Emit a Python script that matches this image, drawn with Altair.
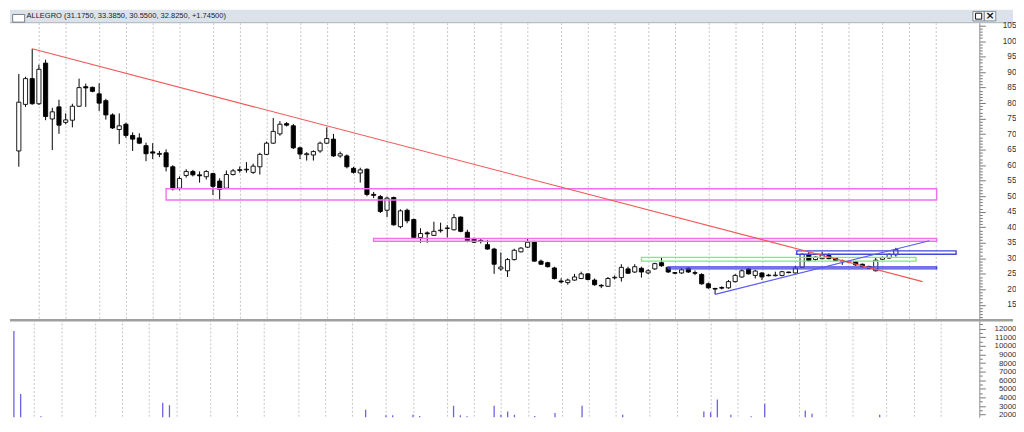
import altair as alt
import pandas as pd

TITLE_TEXT = "ALLEGRO (31.1750, 33.3850, 30.5500, 32.8250, +1.74500)"

# weekly candles (week index 0 = first trading week)
opens = [
    64.6, 79.6, 87.9, 79.8, 92.9, 74.9, 78.8, 73.8, 74.5, 79.0,
    85.3, 85.1, 83.0, 80.8, 76.2, 71.5, 73.2, 69.6, 68.8, 66.3,
    64.3, 63.5, 64.0, 59.5, 52.6, 56.7, 58.0, 56.9, 56.3, 57.3,
    54.9, 52.6, 57.0, 58.3, 58.5, 57.7, 59.5, 63.5, 67.1, 70.1,
    73.4, 72.7, 65.6, 63.4, 63.3, 64.6, 67.1, 68.4, 63.0, 63.0,
    59.0, 57.5, 58.7, 50.6, 49.9, 45.5, 49.6, 40.2, 45.5, 42.5,
    36.7, 38.2, 37.4, 38.9, 39.6, 39.2, 43.3, 38.4, 36.2, 35.8,
    34.4, 33.0, 26.6, 26.0, 29.6, 32.1, 33.6, 35.4, 29.1, 28.6,
    26.9, 22.7, 22.2, 23.0, 23.5, 25.0, 23.0, 21.3, 21.0, 23.7,
    23.8, 26.6, 25.6, 26.8, 25.3, 26.6, 28.6, 27.1, 25.4, 25.3,
    26.8, 25.4, 24.8, 21.8, 20.3, 20.6, 20.5, 22.5, 24.0, 26.6,
    24.5, 25.3, 24.6, 24.4, 24.5, 25.6, 25.3, 27.1, 31.3, 29.6,
    29.9, 30.9, 30.1, 29.2, 29.0, 28.9, 28.1, 27.4, 26.0, 29.7,
    30.1, 31.175]
highs = [
    89.4, 88.5, 97.5, 92.4, 94.0, 78.5, 81.1, 76.7, 79.8, 87.9,
    86.3, 85.3, 86.4, 81.4, 76.7, 76.7, 73.7, 70.6, 70.3, 67.3,
    67.1, 64.6, 65.1, 60.0, 56.4, 58.7, 58.5, 58.0, 58.4, 57.6,
    55.8, 58.3, 58.8, 59.6, 61.0, 60.5, 64.0, 67.6, 75.2, 74.2,
    73.9, 73.3, 66.0, 64.2, 64.8, 67.6, 72.2, 70.1, 64.4, 63.5,
    59.5, 59.2, 59.0, 51.4, 50.4, 49.9, 49.9, 45.8, 46.0, 42.8,
    39.7, 38.7, 41.8, 41.5, 40.7, 44.3, 43.5, 39.2, 36.7, 36.2,
    35.9, 33.4, 31.9, 30.1, 33.1, 33.6, 36.4, 35.7, 29.6, 28.9,
    27.3, 23.6, 23.5, 25.0, 25.7, 25.2, 23.5, 21.7, 24.0, 24.5,
    28.1, 27.3, 28.1, 27.3, 26.5, 28.6, 30.1, 27.3, 25.6, 26.9,
    27.1, 26.1, 25.2, 22.2, 20.5, 21.0, 23.0, 25.0, 26.5, 26.9,
    26.3, 25.5, 25.0, 25.7, 26.0, 25.7, 27.6, 31.6, 32.1, 30.6,
    32.1, 31.6, 30.3, 29.6, 29.3, 29.1, 28.3, 27.6, 30.3, 30.6,
    31.6, 33.385]
lows = [
    59.5, 78.8, 79.5, 79.4, 74.5, 64.9, 70.1, 73.2, 72.2, 78.8,
    78.8, 83.5, 77.5, 74.7, 71.7, 66.8, 68.8, 64.6, 66.8, 61.3,
    62.0, 62.6, 58.0, 51.9, 51.9, 56.0, 56.4, 54.4, 55.4, 50.4,
    48.8, 52.3, 56.7, 57.6, 57.6, 57.2, 57.0, 63.3, 66.9, 69.5,
    72.5, 65.2, 62.0, 61.5, 61.5, 64.0, 66.8, 62.7, 62.4, 59.0,
    57.3, 54.4, 50.0, 49.4, 44.6, 43.3, 40.5, 39.7, 41.3, 36.4,
    35.0, 35.0, 37.2, 38.3, 36.7, 39.0, 38.4, 35.2, 35.0, 34.8,
    32.8, 25.0, 26.0, 24.0, 29.3, 31.9, 33.3, 28.9, 27.9, 27.1,
    23.2, 21.9, 21.5, 22.8, 23.3, 22.9, 21.2, 20.4, 20.8, 23.2,
    22.5, 25.0, 25.3, 23.8, 24.9, 26.3, 27.3, 25.3, 24.9, 25.0,
    25.3, 24.6, 21.5, 20.2, 18.4, 20.0, 20.2, 22.2, 23.8, 24.8,
    23.5, 23.0, 24.2, 24.2, 24.2, 25.2, 25.1, 26.9, 29.1, 29.3,
    29.7, 29.7, 29.1, 27.9, 28.4, 27.6, 27.1, 26.6, 25.8, 29.5,
    29.9, 30.55]
closes = [
    80.3, 87.9, 79.8, 90.9, 75.7, 77.2, 72.9, 74.6, 79.0, 85.0,
    84.9, 83.8, 80.0, 76.2, 72.0, 72.7, 69.6, 68.4, 67.1, 63.7,
    63.9, 63.8, 59.5, 52.4, 55.7, 58.0, 56.9, 56.6, 58.0, 53.2,
    52.2, 57.0, 58.2, 58.6, 58.7, 59.7, 63.5, 67.1, 70.9, 73.2,
    72.9, 65.6, 63.6, 63.7, 64.4, 67.1, 68.6, 63.0, 63.7, 59.5,
    57.7, 58.5, 50.6, 50.3, 45.1, 49.4, 40.8, 45.3, 42.1, 36.7,
    38.0, 37.9, 38.7, 39.1, 39.8, 43.1, 38.7, 35.7, 35.2, 35.6,
    33.0, 28.1, 27.2, 29.6, 32.6, 33.3, 35.2, 29.1, 28.1, 27.3,
    23.5, 22.4, 23.0, 24.0, 25.0, 23.2, 21.5, 21.1, 23.5, 23.9,
    27.1, 25.2, 27.3, 25.6, 26.0, 28.3, 27.6, 25.6, 25.2, 26.3,
    25.6, 25.2, 21.8, 20.5, 20.1, 20.4, 22.5, 24.5, 26.0, 25.0,
    25.9, 24.0, 24.4, 24.6, 25.7, 25.4, 26.9, 31.3, 29.3, 30.4,
    31.1, 29.9, 29.3, 29.0, 28.8, 27.9, 27.3, 26.8, 29.4, 30.3,
    31.3, 32.825]

# month boundaries (week index of first week of each month)
grid_weeks = [3, 7, 12, 16, 20, 24, 29, 33, 37, 42, 46, 50, 55, 59, 64, 68,
              72, 76, 81, 85, 89, 94, 98, 103, 107, 111, 116, 120, 124, 129,
              133, 137]

# visible volume bars
vol_weeks = [0, 1, 4, 22, 23, 52, 55, 56, 59, 60, 65, 66, 67, 71, 72, 73, 74,
             77, 80, 84, 90, 102, 103, 104, 106, 109, 111, 117, 118, 128]
vol_values = [11736, 4418, 1813, 3385, 3099, 2582, 1923, 1923, 2000, 1850,
              3022, 1923, 1800, 3022, 2000, 2363, 2000, 1850, 2179, 3022,
              2000, 2363, 2290, 3758, 2000, 1800, 3275, 2473, 2100, 2000]

# drawn zones (rectangles)
box_names = ["zone 50", "zone 36", "zone 30", "zone 27", "zone 32"]
box_start = [22, 53, 93, 97, 116.2]
box_end = [137.1, 137.1, 134, 137.1, 140]
box_low = [48.8, 35.5, 29.1, 26.6, 31.3]
box_high = [52.4, 36.4, 30.3, 27.2, 32.4]

# drawn trend lines
line_names = ["downtrend", "downtrend", "uptrend", "uptrend"]
line_weeks = [2, 135, 104, 136]
line_prices = [97.5, 22.5, 18.4, 35.7]

overlay_names = ["zone 50", "zone 36", "zone 30", "zone 27", "zone 32",
                 "downtrend", "uptrend"]
overlay_colors = ["#f070f0", "#f070f0", "#78ee78", "#4646dc", "#4646dc",
                  "#f05858", "#5c5cf0"]

candles = pd.DataFrame({"i": list(range(len(opens))), "o": opens, "h": highs,
                        "l": lows, "c": closes})
vol = pd.DataFrame({"i": vol_weeks, "v": vol_values})
boxes = pd.DataFrame({"name": box_names, "x1": box_start, "x2": box_end,
                      "y1": box_low, "y2": box_high})
lines = pd.DataFrame({"name": line_names, "i": line_weeks, "p": line_prices})
title_df = pd.DataFrame({"t": [TITLE_TEXT]})

W_ALL = 1012
PW = 978
TH = 13
PH = 299
VH = 99

XDOM = [-0.579, 142.73]
PDOM = [10.44, 105.91]
VDOM = [1703, 13132]
FONT = "Liberation Sans"

xscale = alt.Scale(domain=XDOM, nice=False, zero=False)
xaxis = alt.Axis(values=grid_weeks, grid=True, gridColor="#c4c4c4",
                 gridDash=[2, 2], gridWidth=1, labels=False, ticks=False,
                 domain=False, title=None)
pscale = alt.Scale(domain=PDOM, nice=False, zero=False)
paxis = alt.Axis(orient="right", values=list(range(11, 106)),
                 labelExpr="datum.value % 5 === 0 ? datum.label : ''",
                 tickSize={"condition": {"test": "datum.value % 5 === 0", "value": 6}, "value": 3},
                 labelOverlap=False, labelAlign="right", labelPadding=31,
                 labelFontSize=8.3, labelFont=FONT, labelColor="#333333",
                 tickColor="#777777", domainColor="#8c8c8c", grid=False,
                 title=None)
vscale = alt.Scale(domain=VDOM, nice=False, zero=False)
vaxis = alt.Axis(orient="right", values=list(range(2000, 12501, 500)),
                 labelExpr="datum.value % 1000 === 0 ? datum.label : ''",
                 tickSize={"condition": {"test": "datum.value % 1000 === 0", "value": 6}, "value": 3},
                 labelOverlap=False, labelAlign="right", labelPadding=31,
                 labelFontSize=8, labelFont=FONT, labelColor="#333333",
                 format="d", tickColor="#777777", domainColor="#8c8c8c",
                 grid=False, title=None)
ocolor = alt.Color("name:N", scale=alt.Scale(domain=overlay_names, range=overlay_colors),
                   legend=None)

# ---- title bar ----
tb_bg = alt.Chart(title_df).mark_rect(color="#dbe2ea").encode(
    x=alt.value(0), x2=alt.value(W_ALL), y=alt.value(0), y2=alt.value(TH))
tb_line = alt.Chart(title_df).mark_rule(color="#a9b2bc").encode(
    x=alt.value(0), x2=alt.value(W_ALL), y=alt.value(TH))
tb_icon = alt.Chart(title_df).mark_rect(fill="#ffffff", stroke="#5a6470", strokeWidth=0.8).encode(
    x=alt.value(2.7), x2=alt.value(14.8), y=alt.value(4.7), y2=alt.value(12.4))
tb_text = alt.Chart(title_df).mark_text(align="left", baseline="middle", fontSize=7.6,
                                         font=FONT, color="#1e1e1e").encode(
    x=alt.value(16.6), y=alt.value(6.2), text="t:N")
tb_btn1 = alt.Chart(title_df).mark_rect(fill="#f3f5f7", stroke="#6b7580", strokeWidth=0.8).encode(
    x=alt.value(971.5), x2=alt.value(983), y=alt.value(1.6), y2=alt.value(11.2))
tb_btn2 = alt.Chart(title_df).mark_rect(fill="#f3f5f7", stroke="#6b7580", strokeWidth=0.8).encode(
    x=alt.value(983), x2=alt.value(994.6), y=alt.value(1.6), y2=alt.value(11.2))
tb_sq = alt.Chart(title_df).mark_rect(fill="#ffffff", stroke="#111111", strokeWidth=1).encode(
    x=alt.value(974.2), x2=alt.value(980.4), y=alt.value(3.4), y2=alt.value(9.4))
tb_x = alt.Chart(title_df).mark_text(text="×", fontSize=11, fontWeight="bold",
                                      font="DejaVu Sans", color="#111111",
                                      align="center", baseline="middle").encode(
    x=alt.value(988.8), y=alt.value(6.6))
title_panel = alt.layer(tb_bg, tb_line, tb_icon, tb_text, tb_btn1, tb_btn2, tb_sq, tb_x).properties(
    width=W_ALL, height=TH)

# ---- price panel ----
X = alt.X("i:Q", scale=xscale, axis=xaxis)
wicks = alt.Chart(candles).mark_rule(color="#000000", strokeWidth=1).encode(
    x=X, y=alt.Y("l:Q", scale=pscale, axis=paxis), y2="h:Q")
bodies = alt.Chart(candles).mark_bar(size=4.2, stroke="#000000", strokeWidth=0.9).encode(
    x=X, y=alt.Y("o:Q", scale=pscale, axis=paxis), y2="c:Q",
    fill=alt.condition("datum.c >= datum.o", alt.value("#ffffff"), alt.value("#000000")))
zones = alt.Chart(boxes).mark_rect(fillOpacity=0, strokeWidth=1.4).encode(
    x=alt.X("x1:Q", scale=xscale, axis=xaxis), x2="x2:Q",
    y=alt.Y("y1:Q", scale=pscale, axis=paxis), y2="y2:Q",
    stroke=alt.Stroke("name:N", scale=alt.Scale(domain=overlay_names, range=overlay_colors),
                      legend=None))
trend = alt.Chart(lines).mark_line(strokeWidth=1.1).encode(
    x=X, y=alt.Y("p:Q", scale=pscale, axis=paxis), color=ocolor, detail="name:N")
price_panel = alt.layer(wicks, bodies, zones, trend).properties(width=PW, height=PH)

# ---- volume panel ----
vbars = alt.Chart(vol).mark_rule(color="#6c60e6", strokeWidth=1.3, clip=True).encode(
    x=X, y=alt.Y("v:Q", scale=vscale, axis=vaxis), y2=alt.datum(0))
sep = alt.Chart(title_df).mark_rule(color="#a0a0a0", strokeWidth=2.4).encode(
    x=alt.value(0), x2=alt.value(W_ALL), y=alt.value(1.2))
volume_panel = alt.layer(vbars, sep).properties(width=PW, height=VH)

chart = alt.vconcat(title_panel, price_panel, volume_panel, spacing=0, bounds="flush").properties(
    padding=0, background="#ffffff").configure_view(stroke=None)

chart.save("out.html", embed_options={"renderer": "svg", "actions": False})
